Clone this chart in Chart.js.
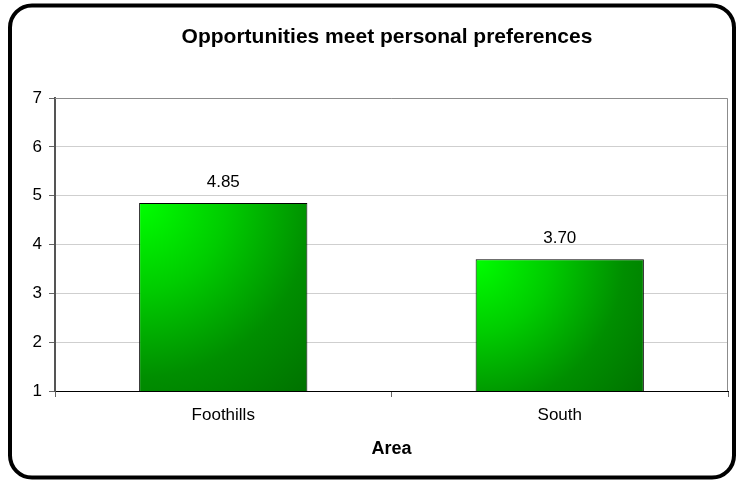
<!DOCTYPE html>
<html>
<head>
<meta charset="utf-8">
<script src="https://cdn.jsdelivr.net/npm/chart.js@4.4.0/dist/chart.umd.min.js"></script>
<style>
  html, body { margin: 0; padding: 0; background: #fff; }
  #wrap { position: relative; width: 736px; height: 481px; }
</style>
</head>
<body>
<div id="wrap"><canvas id="barChart" width="736" height="481"></canvas></div>
<script>
// Chart data
var areas = ["Foothills", "South"];
var scores = [4.85, 3.70];
var yTicks = [1, 2, 3, 4, 5, 6, 7];
var chartTitle = "Opportunities meet personal preferences";
var axisTitle = "Area";

var fontFamily = "'Liberation Sans', Arial, sans-serif";

// Rounded frame round the whole chart, plot frame, title and value labels
var decorations = {
  id: 'decorations',
  beforeDatasetsDraw: function(chart) {
    // green gradient on each bar, bright at the top left corner
    var ctx = chart.ctx;
    chart.getDatasetMeta(0).data.forEach(function(bar) {
      var left = bar.x - bar.width / 2;
      var top = bar.y;
      var w = bar.width;
      var h = bar.base - bar.y;
      var r = Math.sqrt(w * w + h * h);
      var g = ctx.createRadialGradient(left, top, 0, left, top, r);
      g.addColorStop(0, '#00ff00');
      g.addColorStop(0.3, '#00cc00');
      g.addColorStop(0.6, '#008e00');
      g.addColorStop(1, '#006400');
      bar.options.backgroundColor = g;
    });
  },
  afterDraw: function(chart) {
    var ctx = chart.ctx;
    var area = chart.chartArea;
    ctx.save();

    // plot frame: top and right edges
    ctx.strokeStyle = '#8c8c8c';
    ctx.lineWidth = 1;
    ctx.beginPath();
    ctx.moveTo(area.left, area.top + 0.5);
    ctx.lineTo(area.right - 0.5, area.top + 0.5);
    ctx.lineTo(area.right - 0.5, area.bottom);
    ctx.stroke();

    // value labels above the bars
    ctx.fillStyle = '#000';
    ctx.font = '17px ' + fontFamily;
    ctx.textAlign = 'center';
    ctx.textBaseline = 'middle';
    chart.getDatasetMeta(0).data.forEach(function(bar, i) {
      ctx.fillText(scores[i].toFixed(2), bar.x, bar.y - 21);
    });

    // chart title
    ctx.font = 'bold 21px ' + fontFamily;
    ctx.fillText(chartTitle, 387, 37);

    // outer rounded border
    ctx.strokeStyle = '#000';
    ctx.lineWidth = 4;
    ctx.beginPath();
    ctx.roundRect(10, 5.5, 724, 472, 22);
    ctx.stroke();
    ctx.restore();
  }
};

var ctxB = document.getElementById('barChart').getContext('2d');
var myBarChart = new Chart(ctxB, {
  type: 'bar',
  data: {
    labels: areas,
    datasets: [{
      data: scores,
      // scriptable so every bar keeps its own options object (and gradient)
      backgroundColor: function(c) { return '#00b000'; },
      borderColor: '#000',
      borderWidth: 1,
      borderSkipped: false,
      categoryPercentage: 1,
      barPercentage: 0.5
    }]
  },
  options: {
    responsive: false,
    animation: false,
    events: [],
    layout: { padding: { top: 98, right: 8, bottom: 21, left: 0 } },
    plugins: {
      legend: { display: false },
      tooltip: { enabled: false },
      title: { display: false }
    },
    scales: {
      x: {
        offset: true,
        grid: {
          offset: true,
          drawOnChartArea: false,
          drawTicks: true,
          tickLength: 6,
          tickColor: '#666'
        },
        border: { color: '#000', width: 1 },
        ticks: { color: '#000', padding: 8, font: { family: fontFamily, size: 17 } },
        title: {
          display: true,
          text: axisTitle,
          color: '#000',
          padding: { top: 13, bottom: 0 },
          font: { family: fontFamily, size: 18, weight: 'bold' }
        },
        afterFit: function(scale) { scale.height = 481 - 391 - 21; }
      },
      y: {
        min: yTicks[0],
        max: yTicks[yTicks.length - 1],
        afterBuildTicks: function(scale) {
          scale.ticks = yTicks.map(function(v) { return { value: v }; });
        },
        grid: { color: '#cfcfcf', tickLength: 6, tickColor: '#666' },
        border: { color: '#555', width: 2 },
        ticks: { color: '#000', padding: 7, font: { family: fontFamily, size: 17 } },
        afterFit: function(scale) { scale.width = 55; }
      }
    }
  },
  plugins: [decorations]
});
</script>
</body>
</html>
